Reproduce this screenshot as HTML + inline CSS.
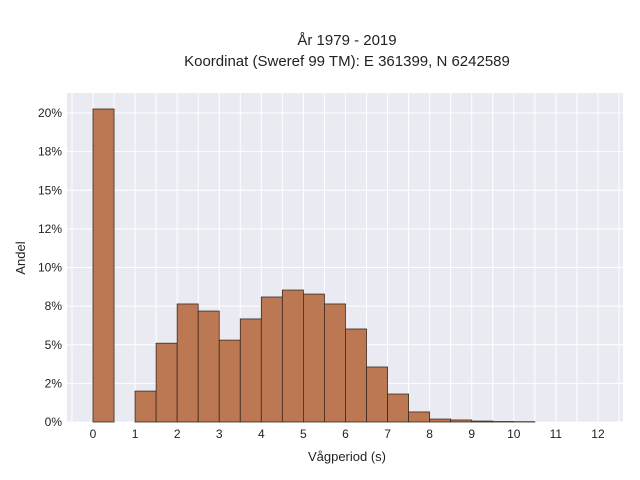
<!DOCTYPE html>
<html><head><meta charset="utf-8"><style>
body{margin:0;background:#fff;}
svg{display:block;font-family:"Liberation Sans",sans-serif;}
</style></head><body>
<svg id="chart" width="640" height="480">
<text x="347" y="45" text-anchor="middle" font-size="15" fill="#222">År 1979 - 2019</text>
<text x="347" y="66" text-anchor="middle" font-size="15" fill="#222">Koordinat (Sweref 99 TM): E 361399, N 6242589</text>
<rect x="67" y="93" width="556" height="329" fill="#eaeaf2"/>
<g id="grid"></g><g id="bars"></g><g id="axes"></g>
<text x="347" y="461" text-anchor="middle" font-size="13" fill="#222">Vågperiod (s)</text>
<text transform="translate(25,258) rotate(-90)" text-anchor="middle" font-size="13" fill="#222">Andel</text>
</svg>
<script>
const binStarts=[0,1.0,1.5,2.0,2.5,3.0,3.5,4.0,4.5,5.0,5.5,6.0,6.5,7.0,7.5,8.0,8.5,9.0,9.5,10.0];
const shares=[20.26,2.0,5.1,7.64,7.18,5.3,6.67,8.09,8.54,8.28,7.64,6.02,3.56,1.81,0.65,0.19,0.13,0.06,0.03,0.02];
const xTicks=[0,1,2,3,4,5,6,7,8,9,10,11,12];
const yTicks=[0,2.5,5,7.5,10,12.5,15,17.5,20];
const yTickLabels=["0%","2%","5%","8%","10%","12%","15%","18%","20%"];
const binWidth=0.5;
const NS="http://www.w3.org/2000/svg";
function X(v){return 93+v*42.08;}
function Y(v){return 422-v*15.45;}
function mk(tag,a,parent){const e=document.createElementNS(NS,tag);for(const k in a)e.setAttribute(k,a[k]);document.getElementById(parent).appendChild(e);return e;}
for(let v=-0.5;v<=12.5;v+=0.5){const l=mk('line',{x1:X(v),x2:X(v),y1:93,y2:422,stroke:'#fff','stroke-width':1},'grid');

}
yTicks.forEach((t,i)=>{const l=mk('line',{x1:67,x2:623,y1:Y(t),y2:Y(t),stroke:'#fff','stroke-width':1},'grid');


const tx=mk('text',{x:62,y:Y(t)+4,'text-anchor':'end','font-size':12,fill:'#222'},'axes');tx.textContent=yTickLabels[i];

});
xTicks.forEach(t=>{const tx=mk('text',{x:X(t),y:438,'text-anchor':'middle','font-size':12,fill:'#222'},'axes');tx.textContent=t;

});
binStarts.forEach((b,i)=>{const r=mk('rect',{x:X(b),y:Y(shares[i]),width:X(b+binWidth)-X(b),height:Y(0)-Y(shares[i]),fill:'#bc7852',stroke:'#3a2a20','stroke-width':0.8},'bars');

});
</script>
</body></html>
